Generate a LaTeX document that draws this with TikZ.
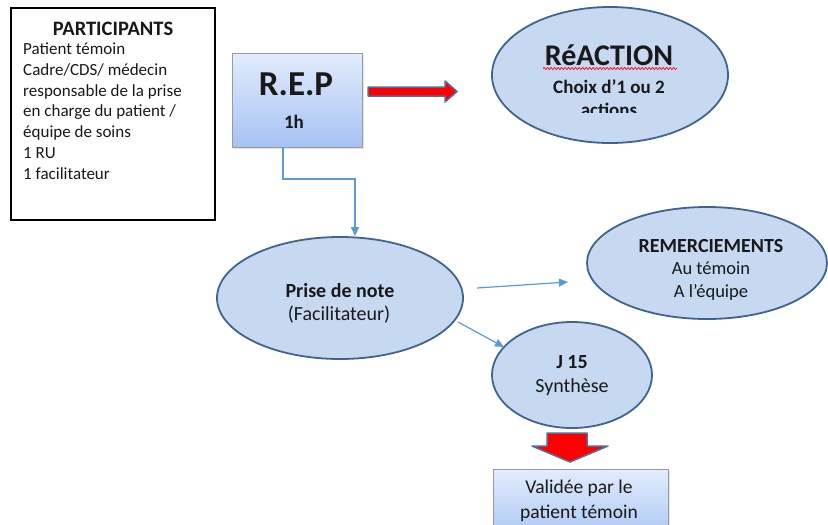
\documentclass[tikz,border=0pt]{standalone}
\usepackage{fontspec}
\setmainfont{Carlito}
\usetikzlibrary{shapes.geometric,arrows.meta,decorations.pathmorphing,shadows}
\definecolor{ellfill}{HTML}{C6D9F0}
\definecolor{edge}{HTML}{41648F}
\definecolor{connblue}{HTML}{5B9BD5}
\definecolor{boxtop}{HTML}{E2ECFC}
\definecolor{boxbot}{HTML}{A6C3F4}
\definecolor{boxedge}{HTML}{9A9A9A}
\definecolor{arrowedge}{HTML}{4F6F9A}
\newcommand{\fsz}[2]{\fontsize{#1}{#2}\selectfont}
\begin{document}
\begin{tikzpicture}[x=1pt,y=-1pt,
  ell/.style={ellipse, draw=edge, line width=1.8pt, fill=ellfill, inner sep=0pt},
  gbox/.style={rectangle, draw=boxedge, line width=0.9pt, top color=boxtop, bottom color=boxbot,
     drop shadow={opacity=0.2, shadow xshift=1.5pt, shadow yshift=-1.5pt}},
  plainbox/.style={rectangle, draw=black, line width=1.3pt, fill=white},
  conn/.style={draw=connblue, line width=1.2pt, -{Triangle[length=9pt,width=8pt]}},
  blockarrow/.style={fill=red, draw=arrowedge, line width=1.5pt, line join=round},
  txt/.style={anchor=base, inner sep=0pt, text=black!90}
]
\useasboundingbox (0,0) rectangle (828,525);
\fill[white] (0,0) rectangle (828,525);

% PARTICIPANTS box
\node[plainbox, minimum width=204pt, minimum height=212pt] (part) at (113,114) {};
\node[txt, font=\bfseries\fsz{20.5}{24}] (parttitle) at (113,35) {PARTICIPANTS};
\node[anchor=north west, inner sep=0pt, align=left, font=\fsz{17}{20.8}, text=black!90] (partbody) at (23,42.5)
  {Patient témoin\\Cadre/CDS/ médecin\\responsable de la prise\\en charge du patient /\\équipe de soins\\1 RU\\1 facilitateur};

% R.E.P box
\node[gbox, minimum width=130pt, minimum height=94pt] (rep) at (297,100) {};
\node[txt, font=\bfseries\fsz{35}{40}] (reptitle) at (296,95) {R.E.P};
\node[txt, font=\bfseries\fsz{19}{23}] (reptime) at (294,128) {1h};

% red arrow to REACTION
\draw[blockarrow] (368,87) -- (445,87) -- (445,81) -- (457,91.5) -- (445,102) -- (445,96) -- (368,96) -- cycle;

% REACTION ellipse
\node[ell, minimum width=236pt, minimum height=136pt] (reaction) at (610,75) {};
\node[txt, font=\bfseries\fsz{30}{36}] (reactitle) at (609,65) {RéACTION};
\draw[red, line width=0.7pt, decorate, decoration={snake, amplitude=1pt, segment length=3.5pt}] (543,68.5) -- (677,68.5);
\node[txt, font=\bfseries\fsz{19}{23}] (reacline) at (609,93) {Choix d’1 ou 2};
\begin{scope}
  \clip (540,100) rectangle (680,112);
  \node[txt, font=\bfseries\fsz{19}{23}] (reacclip) at (609,116.5) {actions};
\end{scope}

% Prise de note ellipse
\node[ell, minimum width=246pt, minimum height=122pt] (prise) at (340,298) {};
\node[txt, font=\bfseries\fsz{20}{24}] (prisetitle) at (340,297) {Prise de note};
\node[txt, font=\fsz{20}{24}] (priseline) at (339,320) {(Facilitateur)};

% REMERCIEMENTS ellipse
\node[ell, minimum width=240pt, minimum height=112pt] (remer) at (707,263) {};
\node[txt, font=\bfseries\fsz{20}{24}] (remtitle) at (711,252) {REMERCIEMENTS};
\node[txt, font=\fsz{18.5}{22}] (remline1) at (711,274) {Au témoin};
\node[txt, font=\fsz{18.5}{22}] (remline2) at (711,297) {A l’équipe};

% J 15 ellipse
\node[ell, minimum width=160pt, minimum height=106pt] (j15) at (572,375) {};
\node[txt, font=\bfseries\fsz{20}{24}] (j15title) at (572,368) {J 15};
\node[txt, font=\fsz{20}{24}] (j15line) at (572,392) {Synthèse};

% red down arrow
\draw[blockarrow] (547,433) -- (587,433) -- (587,446) -- (608,446) -- (570,462) -- (532,446) -- (547,446) -- cycle;

% Validee box
\node[gbox, minimum width=175pt, minimum height=76pt] (valid) at (580.5,507) {};
\node[txt, font=\fsz{19.5}{23}] (validl1) at (579,493) {Validée par le};
\node[txt, font=\fsz{19.5}{23}] (validl2) at (579,518) {patient témoin};

% connectors
\coordinate (repx) at (283,0);
\coordinate (bend) at (355,179);
\draw[conn] (rep.south -| repx) |- (bend) -- (bend |- prise.north);
\coordinate (ra) at (477,288);
\coordinate (rb) at (568,282);
\draw[conn] (ra) -- (rb);
\coordinate (ja) at (458,322);
\coordinate (jb) at (504,347);
\draw[conn] (ja) -- (jb);
\end{tikzpicture}
\end{document}
